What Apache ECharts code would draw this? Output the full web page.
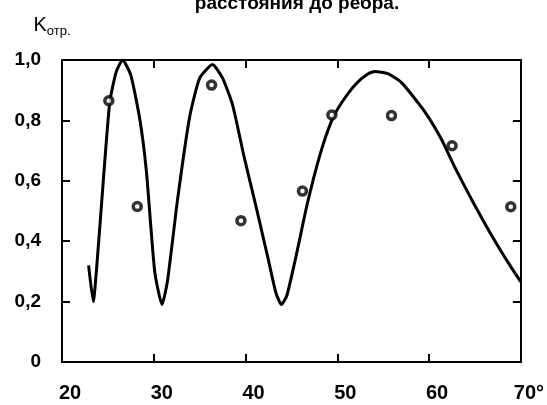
<!DOCTYPE html>
<html>
<head>
<meta charset="utf-8">
<script src="https://cdn.jsdelivr.net/npm/echarts@6/dist/echarts.min.js"></script>
<style>
  html, body { margin: 0; padding: 0; background: #fff; }
  #chart { width: 547px; height: 405px; }
</style>
</head>
<body>
<div id="chart"></div>
<script>
// Reflection coefficient vs. angle: computed curve and measured points
const titleText = 'расстояния до ребра.';

const curveAngle = [22.9, 23.4, 24.0, 24.5, 25.2, 25.9, 26.6, 27.5, 28.5, 29.2, 30.1, 30.9,
  31.5, 32.6, 33.9, 35.0, 36.4, 37.5, 38.6, 39.8, 41.1, 42.4, 43.3, 43.9, 44.5, 45.5,
  46.7, 48.1, 49.4, 50.5, 52.0, 53.4, 54.1, 55.5, 57.0, 59.5, 61.3, 62.8, 64.6, 66.8,
  68.6, 70.0];
const curveK = [0.32, 0.20, 0.40, 0.60, 0.86, 0.96, 1.00, 0.95, 0.80, 0.63, 0.30, 0.19,
  0.27, 0.54, 0.81, 0.94, 0.985, 0.94, 0.85, 0.685, 0.52, 0.35, 0.23, 0.19, 0.22, 0.35,
  0.52, 0.685, 0.80, 0.86, 0.92, 0.955, 0.962, 0.955, 0.925, 0.83, 0.74, 0.645, 0.54, 0.42,
  0.33, 0.265];

const pointAngle = [25.1, 28.2, 36.3, 39.5, 46.2, 49.4, 55.9, 62.5, 68.9];
const pointK = [0.865, 0.515, 0.917, 0.468, 0.566, 0.818, 0.816, 0.716, 0.514];

const xTickLabels = ['20', '30', '40', '50', '60', '70°'];
const yTickLabels = ['0', '0,2', '0,4', '0,6', '0,8', '1,0'];

const X_MIN = 20, X_MAX = 70, X_STEP = 10;
const Y_MIN = 0, Y_MAX = 1, Y_STEP = 0.2;

const FONT = '"Liberation Sans", Arial, sans-serif';
const INK = '#000';

const frameLine = { show: true, onZero: false, lineStyle: { color: INK, width: 2 } };
const innerTick = { show: true, inside: true, length: 8, lineStyle: { color: INK, width: 2 } };

const chart = echarts.init(document.getElementById('chart'), null, { renderer: 'canvas' });

chart.setOption({
  animation: false,
  backgroundColor: '#fff',
  title: {
    text: titleText,
    left: 292,
    top: -11,
    textAlign: 'center',
    textStyle: { fontFamily: FONT, fontWeight: 'bold', fontSize: 19, color: INK }
  },
  grid: { left: 62, right: 24.5, top: 60, bottom: 43, containLabel: false },
  xAxis: [
    {
      type: 'value', position: 'bottom', min: X_MIN, max: X_MAX, interval: X_STEP,
      axisLine: frameLine, axisTick: innerTick, splitLine: { show: false },
      axisLabel: {
        margin: 21,
        padding: [0, 0, 0, 16],
        fontFamily: FONT, fontWeight: 'bold', fontSize: 20, color: INK,
        formatter: v => xTickLabels[Math.round((v - X_MIN) / X_STEP)]
      }
    },
    {
      type: 'value', position: 'top', min: X_MIN, max: X_MAX, interval: X_STEP,
      axisLine: frameLine, axisTick: innerTick, splitLine: { show: false },
      axisLabel: { show: false }
    }
  ],
  yAxis: [
    {
      type: 'value', position: 'left', min: Y_MIN, max: Y_MAX, interval: Y_STEP,
      axisLine: frameLine, axisTick: innerTick, splitLine: { show: false },
      name: '{k|K}{s|отр.}',
      nameLocation: 'end',
      nameGap: 25,
      nameTextStyle: {
        padding: [0, 20, 0, 0],
        rich: {
          k: { fontFamily: FONT, fontSize: 20, color: INK },
          s: { fontFamily: FONT, fontSize: 13, color: INK, verticalAlign: 'bottom', padding: [0, 0, -3, 0] }
        }
      },
      axisLabel: {
        margin: 21,
        fontFamily: FONT, fontWeight: 'bold', fontSize: 19, color: INK,
        formatter: v => yTickLabels[Math.round((v - Y_MIN) / Y_STEP)]
      }
    },
    {
      type: 'value', position: 'right', min: Y_MIN, max: Y_MAX, interval: Y_STEP,
      axisLine: frameLine, axisTick: innerTick, splitLine: { show: false },
      axisLabel: { show: false }
    }
  ],
  series: [
    {
      type: 'line',
      xAxisIndex: 0, yAxisIndex: 0,
      data: curveAngle.map((a, i) => [a, curveK[i]]),
      showSymbol: false,
      smooth: 0.18,
      lineStyle: { color: INK, width: 3 },
      z: 2
    },
    {
      type: 'scatter',
      xAxisIndex: 0, yAxisIndex: 0,
      data: pointAngle.map((a, i) => [a, pointK[i]]),
      symbol: 'circle',
      symbolSize: 8,
      itemStyle: { color: '#fff', borderColor: INK, borderWidth: 3.5 },
      z: 3
    }
  ]
});
</script>
</body>
</html>
